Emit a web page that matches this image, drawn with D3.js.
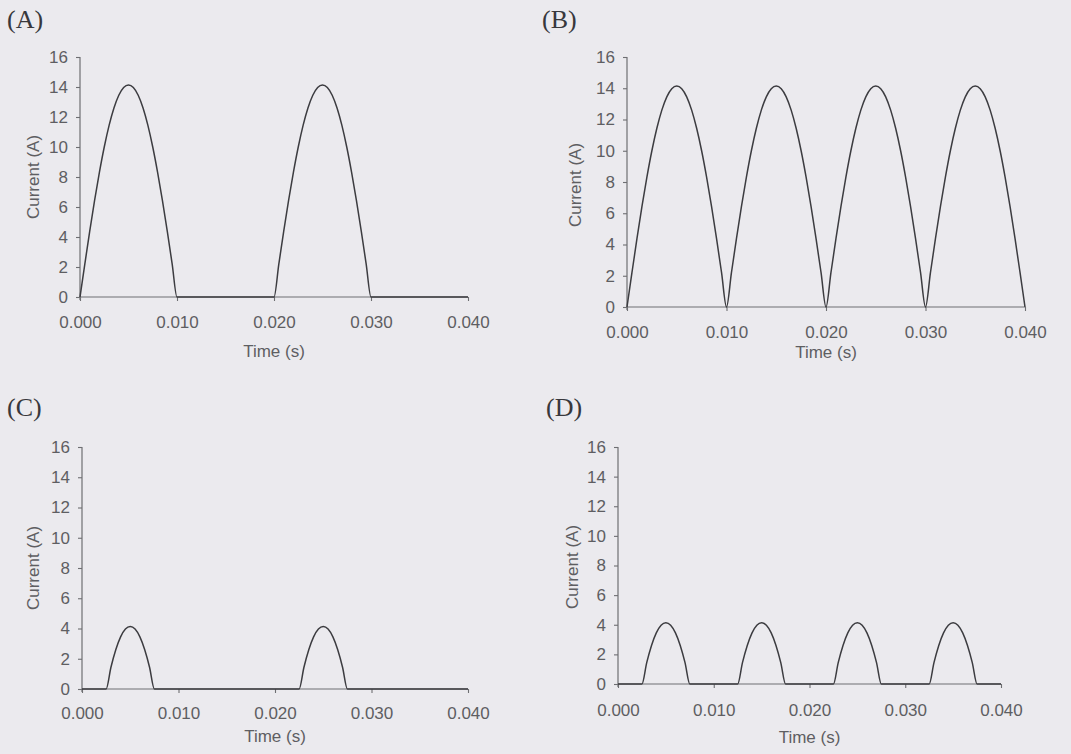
<!DOCTYPE html>
<html><head><meta charset="utf-8">
<script src="https://cdn.jsdelivr.net/npm/d3@7"></script>
<style>
html,body{margin:0;padding:0;background:#ebeaee;}
svg{display:block;}
</style></head>
<body>
<svg id="c" width="1071" height="754"></svg>
<script>
// sample times (s)
const times = [0,0.0005,0.001,0.0015,0.002,0.0025,0.003,0.0035,0.004,0.0045,0.005,0.0055,0.006,0.0065,0.007,0.0075,0.008,0.0085,0.009,0.0095,
0.01,0.0105,0.011,0.0115,0.012,0.0125,0.013,0.0135,0.014,0.0145,0.015,0.0155,0.016,0.0165,0.017,0.0175,0.018,0.0185,0.019,0.0195,
0.02,0.0205,0.021,0.0215,0.022,0.0225,0.023,0.0235,0.024,0.0245,0.025,0.0255,0.026,0.0265,0.027,0.0275,0.028,0.0285,0.029,0.0295,
0.03,0.0305,0.031,0.0315,0.032,0.0325,0.033,0.0335,0.034,0.0345,0.035,0.0355,0.036,0.0365,0.037,0.0375,0.038,0.0385,0.039,0.0395,0.04];
// (A) half-wave current (A)
const currentA = [0,2.21,4.37,6.42,8.31,10.0,11.44,12.6,13.45,13.97,14.14,13.97,13.45,12.6,11.44,10.0,8.31,6.42,4.37,2.21,
0,0,0,0,0,0,0,0,0,0,0,0,0,0,0,0,0,0,0,0,
0,2.21,4.37,6.42,8.31,10.0,11.44,12.6,13.45,13.97,14.14,13.97,13.45,12.6,11.44,10.0,8.31,6.42,4.37,2.21,
0,0,0,0,0,0,0,0,0,0,0,0,0,0,0,0,0,0,0,0,0];
// (B) full-wave current (A)
const currentB = [0,2.21,4.37,6.42,8.31,10.0,11.44,12.6,13.45,13.97,14.14,13.97,13.45,12.6,11.44,10.0,8.31,6.42,4.37,2.21,
0,2.21,4.37,6.42,8.31,10.0,11.44,12.6,13.45,13.97,14.14,13.97,13.45,12.6,11.44,10.0,8.31,6.42,4.37,2.21,
0,2.21,4.37,6.42,8.31,10.0,11.44,12.6,13.45,13.97,14.14,13.97,13.45,12.6,11.44,10.0,8.31,6.42,4.37,2.21,
0,2.21,4.37,6.42,8.31,10.0,11.44,12.6,13.45,13.97,14.14,13.97,13.45,12.6,11.44,10.0,8.31,6.42,4.37,2.21,0];
// (C) half-wave with offset
const currentC = [0,0,0,0,0,0,1.44,2.6,3.45,3.97,4.14,3.97,3.45,2.6,1.44,0,0,0,0,0,
0,0,0,0,0,0,0,0,0,0,0,0,0,0,0,0,0,0,0,0,
0,0,0,0,0,0,1.44,2.6,3.45,3.97,4.14,3.97,3.45,2.6,1.44,0,0,0,0,0,
0,0,0,0,0,0,0,0,0,0,0,0,0,0,0,0,0,0,0,0,0];
// (D) full-wave with offset
const currentD = [0,0,0,0,0,0,1.44,2.6,3.45,3.97,4.14,3.97,3.45,2.6,1.44,0,0,0,0,0,
0,0,0,0,0,0,1.44,2.6,3.45,3.97,4.14,3.97,3.45,2.6,1.44,0,0,0,0,0,
0,0,0,0,0,0,1.44,2.6,3.45,3.97,4.14,3.97,3.45,2.6,1.44,0,0,0,0,0,
0,0,0,0,0,0,1.44,2.6,3.45,3.97,4.14,3.97,3.45,2.6,1.44,0,0,0,0,0,0];
const xTicks = [0,0.01,0.02,0.03,0.04];
const xTickLabels = ["0.000","0.010","0.020","0.030","0.040"];
const yTicks = [0,2,4,6,8,10,12,14,16];
const panelLabels = ["(A)","(B)","(C)","(D)"];
const xTitle = "Time (s)";
const yTitle = "Current (A)";

const panels = [
  {label:panelLabels[0], data:currentA, x0:80, x1:468, yb:297, yt:57, lx:7, ly:28, tPad:15, ttY:357, ytX:33, ytY:177},
  {label:panelLabels[1], data:currentB, x0:627, x1:1025, yb:307, yt:57, lx:542, ly:28, tPad:15, ttY:358, ytX:575, ytY:185},
  {label:panelLabels[2], data:currentC, x0:82, x1:468, yb:689, yt:447, lx:7, ly:416, tPad:14, ttY:742, ytX:33, ytY:568},
  {label:panelLabels[3], data:currentD, x0:618, x1:1001, yb:684, yt:447, lx:546, ly:416, tPad:16, ttY:743, ytX:572, ytY:567}
];
const svg = d3.select("#c");
const axisCol = "#6e6e72", textCol = "#5e5e62", lineCol = "#3c3c40";
const sans = "Liberation Sans, Arial, sans-serif";

panels.forEach(p=>{
  const x = d3.scaleLinear().domain([0,0.04]).range([p.x0,p.x1]);
  const y = d3.scaleLinear().domain([0,16]).range([p.yb,p.yt]);
  const g = svg.append("g");
  g.append("text").attr("x",p.lx).attr("y",p.ly).text(p.label)
    .attr("font-family","Liberation Serif, serif").attr("font-size",26).attr("fill","#38383c");

  const ya = g.append("g").attr("transform",`translate(${p.x0},0)`)
    .call(d3.axisLeft(y).tickValues(yTicks).tickSize(4).tickPadding(8).tickFormat(d3.format("d")));
  const xa = g.append("g").attr("transform",`translate(0,${p.yb})`)
    .call(d3.axisBottom(x).tickValues(xTicks).tickSize(4).tickPadding(p.tPad).tickFormat((d,i)=>xTickLabels[i]));
  [ya,xa].forEach(a=>{
    a.select(".domain").attr("stroke",axisCol).attr("stroke-width",1.2);
    a.selectAll(".tick line").attr("stroke",axisCol).attr("stroke-width",1.1);
    a.selectAll("text").attr("fill",textCol).attr("font-family",sans).attr("font-size",17);
  });
  xa.select(".domain").attr("d",`M${p.x0},0H${p.x1}`);
  ya.select(".domain").attr("d",`M0,${p.yt}V${p.yb+3}`);

  const line = d3.line().x((d,i)=>x(times[i])).y(d=>y(d)).curve(d3.curveMonotoneX);
  g.append("path").datum(p.data).attr("d",line).attr("fill","none")
    .attr("stroke",lineCol).attr("stroke-width",1.5);

  g.append("text").attr("x",(p.x0+p.x1)/2).attr("y",p.ttY).attr("text-anchor","middle")
    .text(xTitle).attr("fill",textCol).attr("font-family",sans).attr("font-size",17);
  g.append("text").attr("transform",`translate(${p.ytX+6},${p.ytY}) rotate(-90)`)
    .attr("text-anchor","middle").text(yTitle).attr("fill",textCol)
    .attr("font-family",sans).attr("font-size",17);
});
</script>
</body></html>
